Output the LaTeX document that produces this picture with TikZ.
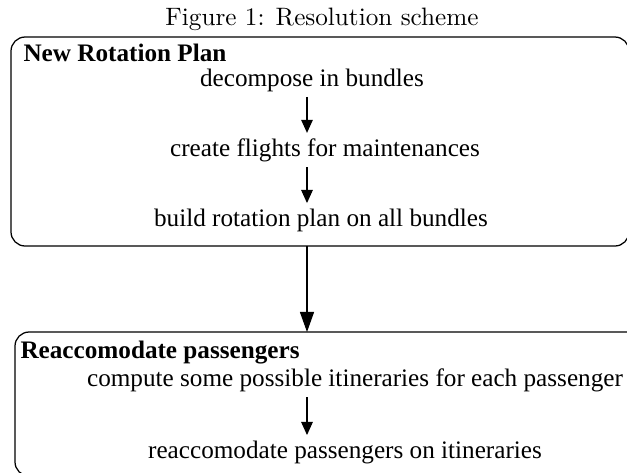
\documentclass[tikz,border=0pt]{standalone}
\usepackage{fontspec}
\newfontfamily\tms{Liberation Serif}
\usetikzlibrary{arrows.meta}
\begin{document}
\begin{tikzpicture}[x=0.397pt,y=-0.397pt,
  box/.style={draw=black, line width=0.5pt, rounded corners=5.6pt},
  lbl/.style={inner sep=0pt, font=\tms\fontsize{10}{12}\selectfont},
  hd/.style={inner sep=0pt, anchor=west, font=\tms\bfseries\fontsize{10}{12}\selectfont},
  arr/.style={-{Triangle[length=5.2pt,width=4.6pt]}, line width=0.45pt},
  bigarr/.style={-{Triangle[length=8pt,width=5.6pt]}, line width=0.45pt}]
\useasboundingbox (0,0) rectangle (627,472);
\node[inner sep=0pt] (title) at (322,19) {Figure 1: Resolution scheme};
% boxes
\draw[box] (11,37) coordinate (b1nw) rectangle (629,246) coordinate (b1se);
\draw[box] (15,332) coordinate (b2nw) rectangle (700,476) coordinate (b2se);
\coordinate (ax) at (307,0);
% box 1
\node[hd] (h1) at (23,53) {New Rotation Plan};
\node[lbl] (t1) at (312,80) {decompose in bundles};
\node[lbl] (t2) at (325,150) {create flights for maintenances};
\node[lbl] (t3) at (321,220) {build rotation plan on all bundles};
% box 2
\node[hd] (h2) at (20,353) {Reaccomodate passengers};
\node[lbl] (t4) at (355,380) {compute some possible itineraries for each passenger};
\node[lbl] (t5) at (345,452) {reaccomodate passengers on itineraries};
% arrows
\draw[arr] ([yshift=-2pt]t1.south -| ax) -- ([yshift=2pt]t2.north -| ax);
\draw[arr] ([yshift=-2pt]t2.south -| ax) -- ([yshift=2pt]t3.north -| ax);
\draw[bigarr] (b1se -| ax) -- (b2nw -| ax);
\draw[arr] ([yshift=-2pt]t4.south -| ax) -- ([yshift=2pt]t5.north -| ax);
\end{tikzpicture}
\end{document}
